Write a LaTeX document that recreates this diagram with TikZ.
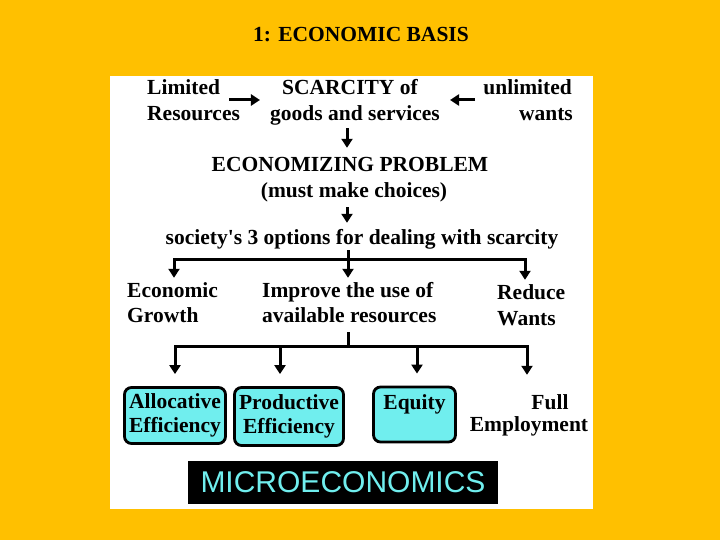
\documentclass[tikz,border=0pt]{standalone}
\usepackage{fontspec}
\setmainfont{Liberation Serif}
\newfontfamily\BannerFont{Liberation Sans}
\usepackage{xcolor}
\definecolor{ColBack}{RGB}{255,192,0}
\definecolor{ColBox}{RGB}{112,238,238}
\usepackage{tikz}
\usetikzlibrary{arrows.meta}
\usetikzlibrary{calc}
\tikzstyle{Title}=[inner sep=0pt,font=\fontsize{21.5}{24}\selectfont\bfseries]
\tikzstyle{Txt}=[inner sep=0pt,text height=12pt,text depth=2pt,
font=\fontsize{21.5}{25}\selectfont\bfseries]
\tikzstyle{Box}=[draw,fill=ColBox,rounded corners=7pt,line width=2.8pt,
inner sep=0pt,align=center,font=\fontsize{21.5}{24}\selectfont\bfseries]
\tikzstyle{Banner}=[fill=black,text=ColBox,inner sep=0pt,
font=\BannerFont\fontsize{30}{30}\selectfont]
\tikzstyle{Edge}=[line width=3pt]
\tikzstyle{Arrow}=[Edge,-{Triangle[length=9pt,width=11pt]}]

\begin{document}
\begin{tikzpicture}[x=1pt,y=-1pt]
        \useasboundingbox(0,0)rectangle(720,540);
        \fill[ColBack](0,0)rectangle(720,540);
        \fill[white](110,76)rectangle(593,509);
        \node[Title](t)at(361,35){1: ECONOMIC BASIS};
        % top row
        \node[Txt,anchor=west](lim)at(147,90){Limited};
        \node[Txt,anchor=west](res)at(147,116){Resources};
        \node[Txt](sca)at(350,90){SCARCITY of};
        \node[Txt](gds)at(355,116){goods and services};
        \node[Txt,anchor=east](unl)at(572,90){unlimited};
        \node[Txt,anchor=east](wan)at(573,116){wants};
        \node[Txt](eco)at(350,167){ECONOMIZING PROBLEM};
        \node[Txt](cho)at(354,192){(must make choices)};
        \node[Txt](soc)at(362,239){society\textquotesingle s 3 options for dealing with scarcity};
        % options
        \node[Txt,anchor=west](gro)at(127,292){Economic};
        \node[Txt,anchor=west](gro2)at(127,317){Growth};
        \node[Txt,anchor=west](imp)at(262,292){Improve the use of};
        \node[Txt,anchor=west](imp2)at(262,317){available resources};
        \node[Txt,anchor=west](red)at(497,294){Reduce};
        \node[Txt,anchor=west](red2)at(497,320){Wants};
        % goals
        \node[Box,minimum width=101pt,minimum height=56pt](alo)at(175,415.5){Allocative\\Efficiency};
        \node[Box,minimum width=109pt,minimum height=58pt](pro)at(289,416.5){Productive\\Efficiency};
        \node[Box,minimum width=82pt,minimum height=55pt](equ)at(414.5,414.5){Equity\\\mbox{}};
        \node[Txt](ful)at(550,404){Full};
        \node[Txt](emp)at(529,426){Employment};
        \node[Banner,minimum width=310pt,minimum height=43pt](mic)at(343,482.5){MICROECONOMICS};
        % connectors
        \coordinate(c)at(347,0);
        \coordinate(b1)at(348,259);
        \coordinate(b2)at(348,346);
        \draw[Arrow]($(lim.east)+(9pt,-10pt)$)--($(lim.east -| gds.west)+(-10pt,-10pt)$);
        \draw[Arrow]($(unl.west)+(-8pt,-10pt)$)--($(unl.west -| gds.east)+(10pt,-10pt)$);
        \draw[Arrow,shorten <=5pt,shorten >=12pt](gds.south -| c)--(eco.north -| c);
        \draw[Arrow,shorten <=8pt,shorten >=9pt](cho.south -| c)--(soc.north -| c);
        \draw[Edge,shorten <=4pt](soc.south -| b1)--(b1);
        \foreach \n/\xx in {gro/174,imp/348,red/525}
            \draw[Arrow,shorten >=7pt](b1)-|(\xx,0 |- \n.north);
        \draw[Edge,shorten <=8pt](imp2.south -| b2)--(b2);
        \foreach \n/\xx in {alo/175,pro/280,equ/417}
            \draw[Arrow,shorten >=12pt](b2)-|(\xx,0 |- \n.north);
        \draw[Arrow,shorten >=22pt](b2)-|(527,0 |- ful.north);
    \end{tikzpicture}
\end{document}
